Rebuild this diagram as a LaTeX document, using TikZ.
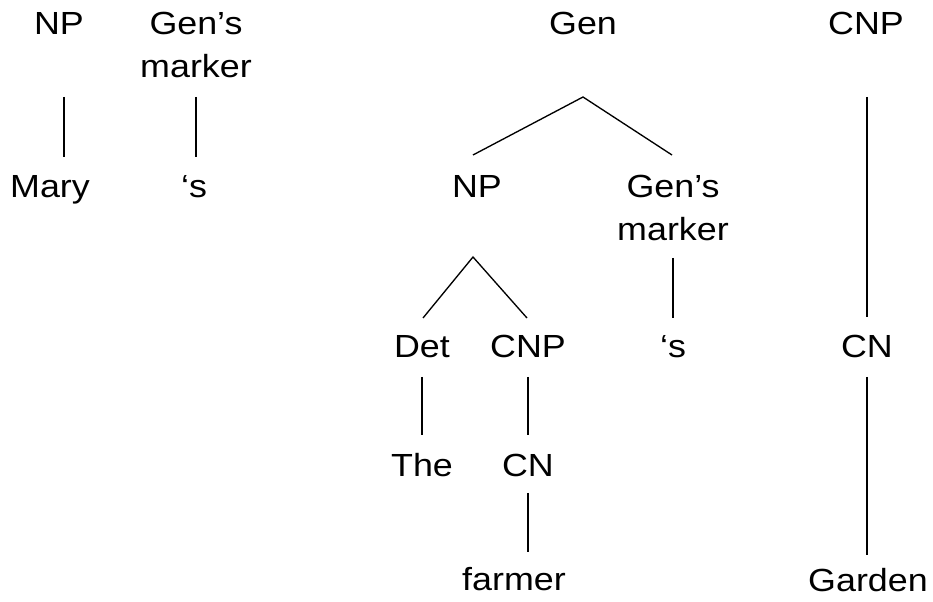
\documentclass[tikz,border=0pt]{standalone}
\usepackage{fontspec}
\setmainfont[FakeStretch=1.12]{Liberation Sans}
\usepackage{tikz}
\usetikzlibrary{calc}

\begin{document}
\begin{tikzpicture}[x=0.75pt, y=-0.75pt,
    every node/.style={font=\fontsize{24}{32.25}\selectfont, inner sep=0pt, anchor=base},
    cat/.style={align=center},
    branch/.style={line width=1pt}]
    \useasboundingbox (0,0) rectangle (933,602);
    % first tree: Mary 's
    \node[cat] (np1) at (59,35) {NP};
    \node[cat] (gm1) at (196,78) {Gen’s\\marker};
    \node (mary) at (50,198) {Mary};
    \node (s1) at (194,198) {‘s};
    % second tree: Gen
    \node[cat] (gen) at (583,35) {Gen};
    \node[cat] (np2) at (477,198) {NP};
    \node[cat] (gm2) at (673,241) {Gen’s\\marker};
    \node[cat] (det) at (422,358) {Det};
    \node[cat] (cnp1) at (528,358) {CNP};
    \node (s2) at (673,358) {‘s};
    \node (the) at (422,477) {The};
    \node[cat] (cn1) at (528,477) {CN};
    \node (farmer) at (514,590) {farmer};
    % third tree: Garden
    \node[cat] (cnp2) at (866,35) {CNP};
    \node[cat] (cn2) at (867,358) {CN};
    \node (garden) at (868,591) {Garden};
    % Branches
    \draw[branch] ($(np1.base)+(5,62)$) -- ($(mary.base)+(14,-41)$);
    \draw[branch] ($(gm1.base)+(0,19)$) -- ($(s1.base)+(2,-41)$);
    \draw[branch] ($(np2.base)+(-4,-43)$) -- ($(gen.base)+(0,62)$) -- ($(gm2.base)+(-1,-86)$);
    \draw[branch] ($(gm2.base)+(0,17)$) -- ($(s2.base)+(0,-40)$);
    \draw[branch] ($(det.base)+(1,-40)$) -- ($(np2.base)+(-4,59)$) -- ($(cnp1.base)+(-1,-40)$);
    \draw[branch] ($(det.base)+(0,19)$) -- ($(the.base)+(0,-42)$);
    \draw[branch] ($(cnp1.base)+(0,19)$) -- ($(cn1.base)+(0,-42)$);
    \draw[branch] ($(cn1.base)+(0,16)$) -- ($(farmer.base)+(14,-38)$);
    \draw[branch] ($(cnp2.base)+(1,62)$) -- ($(cn2.base)+(0,-41)$);
    \draw[branch] ($(cn2.base)+(0,19)$) -- ($(garden.base)+(-1,-36)$);
\end{tikzpicture}
\end{document}
